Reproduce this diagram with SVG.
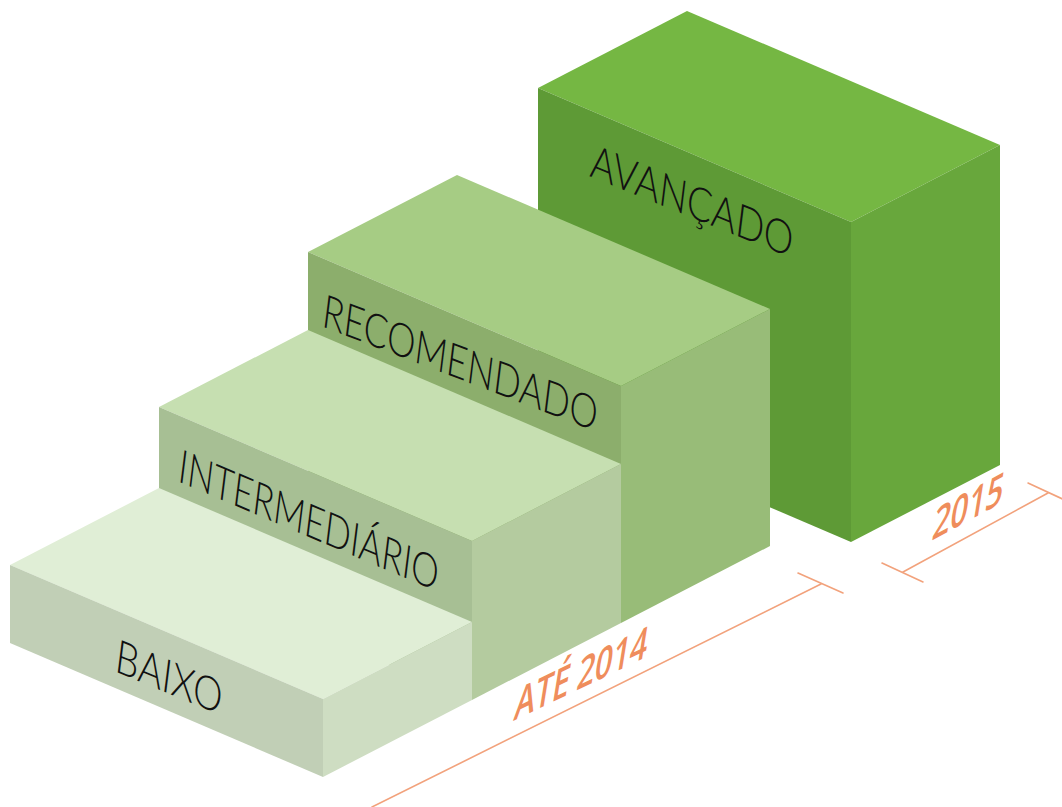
<svg xmlns="http://www.w3.org/2000/svg" width="1062" height="807" viewBox="0 0 1062 807">
<style>
.lbl { font-family: Lato, "Open Sans", "Liberation Sans", sans-serif; font-weight: 300; font-size: 46px; fill: #111; }
.dim { font-family: "Open Sans", Lato, "Liberation Sans", sans-serif; font-weight: 600; font-size: 46px; fill: #ef8d5c; }
.dl { stroke: #f2a27c; stroke-width: 1.6; fill: none; stroke-linecap: round; }
</style>
<rect width="1062" height="807" fill="#ffffff"/>

<g id="avancado">
  <polygon points="538,88 687,11 1000,145 851,222" fill="#75b743"/>
  <polygon points="538,88 851,222 851,542 538,408" fill="#5e9a36"/>
  <polygon points="851,222 1000,145 1000,465 851,542" fill="#68a73c"/>
  <text class="lbl" transform="matrix(0.9272 0.3746 -0.124 0.992 589 176)" textLength="218" lengthAdjust="spacingAndGlyphs">AVANÇADO</text>
</g>

<g id="recomendado">
  <polygon points="308,252 457,175 770,309 621,386" fill="#a6cc84"/>
  <polygon points="308,252 621,386 621,623 308,489" fill="#8cae6c"/>
  <polygon points="621,386 770,309 770,546 621,623" fill="#98bc78"/>
  <text class="lbl" transform="matrix(0.9336 0.3584 -0.124 0.992 321 326)" textLength="294" lengthAdjust="spacingAndGlyphs">RECOMENDADO</text>
</g>

<g id="intermediario">
  <polygon points="159,407 308,330 621,464 472,541" fill="#c6dfb1"/>
  <polygon points="159,407 472,541 472,700 159,566" fill="#a7bf94"/>
  <polygon points="472,541 621,464 621,623 472,700" fill="#b4cb9f"/>
  <text class="lbl" transform="matrix(0.9205 0.3907 -0.124 0.992 177 481)" textLength="282" lengthAdjust="spacingAndGlyphs">INTERMEDIÁRIO</text>
</g>

<g id="baixo">
  <polygon points="10,565 159,488 472,622 323,699" fill="#e0eed6"/>
  <polygon points="10,565 323,699 323,777 10,643" fill="#c1cfb6"/>
  <polygon points="323,699 472,622 472,700 323,777" fill="#ceddc2"/>
  <text class="lbl" transform="matrix(0.9239 0.3827 -0.124 0.992 114 671)" textLength="115" lengthAdjust="spacingAndGlyphs">BAIXO</text>
</g>

<g id="dimensions">
  <line class="dl" x1="372" y1="807" x2="821" y2="584"/>
  <line class="dl" x1="798" y1="573" x2="843" y2="593"/>
  <line class="dl" x1="903" y1="572" x2="1048" y2="493"/>
  <line class="dl" x1="882" y1="563" x2="923" y2="582"/>
  <line class="dl" x1="1028" y1="483" x2="1069" y2="502"/>
  <text class="dim" transform="matrix(0.9018 -0.4321 -0.16 0.987 513 721)" textLength="147" lengthAdjust="spacingAndGlyphs">ATÉ 2014</text>
  <text class="dim" transform="matrix(0.8796 -0.4756 -0.16 0.987 931 541)" textLength="80" lengthAdjust="spacingAndGlyphs">2015</text>
</g>
</svg>
